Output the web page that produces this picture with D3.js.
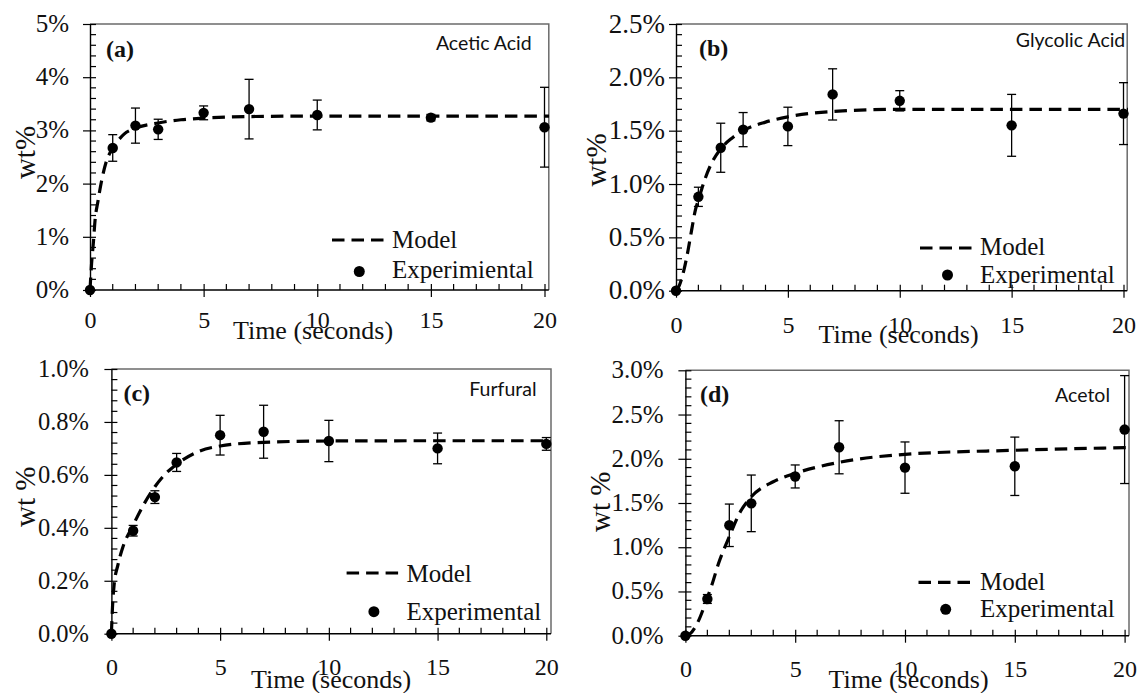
<!DOCTYPE html>
<html>
<head>
<meta charset="utf-8">
<script src="https://cdn.jsdelivr.net/npm/d3@7"></script>
<style>
  html, body { margin: 0; padding: 0; background: #fff; }
  svg { display: block; }
  .serif { font-family: 'Liberation Serif', 'Times New Roman', serif; }
</style>
</head>
<body>
<svg id="fig" width="1138" height="693"></svg>
<script>
// ---- data (wt% values, time in seconds) ----
const timeS = [0, 1, 2, 3, 5, 7, 10, 15, 20];

// (a) Acetic acid
const aceticExp = [0, 2.67, 3.09, 3.02, 3.33, 3.40, 3.29, 3.24, 3.06];
const aceticErr = [0, 0.25, 0.33, 0.19, 0.13, 0.56, 0.28, 0.06, 0.75];
const aceticModelT = [0, 0.07, 0.15, 0.22, 0.35, 0.5, 0.72, 1, 1.5, 2, 3, 4, 5, 7, 10, 15, 20.2];
const aceticModelY = [0, 0.5, 0.9, 1.3, 1.67, 2.03, 2.42, 2.66, 2.93, 3.04, 3.14, 3.2, 3.23, 3.26, 3.27, 3.27, 3.27];

// (b) Glycolic acid
const glycolicExp = [0, 0.88, 1.34, 1.51, 1.54, 1.84, 1.78, 1.55, 1.66];
const glycolicErr = [0, 0.09, 0.23, 0.16, 0.18, 0.24, 0.095, 0.29, 0.29];
const glycolicModelT = [0, 0.15, 0.35, 0.54, 0.7, 0.87, 1, 1.3, 1.6, 2, 2.5, 3, 4, 5, 7, 10, 15, 20.2];
const glycolicModelY = [0, 0.05, 0.19, 0.38, 0.57, 0.76, 0.85, 1.05, 1.2, 1.33, 1.43, 1.5, 1.58, 1.63, 1.68, 1.70, 1.70, 1.70];

// (c) Furfural
const furfuralExp = [0, 0.389, 0.516, 0.647, 0.75, 0.763, 0.728, 0.70, 0.717];
const furfuralErr = [0, 0.02, 0.024, 0.034, 0.075, 0.10, 0.078, 0.058, 0.024];
const furfuralModelT = [0, 0.05, 0.12, 0.3, 0.5, 1, 1.5, 2, 2.5, 3, 4, 5, 7, 10, 15, 20.2];
const furfuralModelY = [0, 0.10, 0.18, 0.26, 0.32, 0.41, 0.49, 0.555, 0.605, 0.64, 0.688, 0.709, 0.723, 0.728, 0.729, 0.729];

// (d) Acetol
const acetolExp = [0, 0.415, 1.248, 1.496, 1.80, 2.13, 1.90, 1.915, 2.33];
const acetolErr = [0, 0.05, 0.24, 0.32, 0.13, 0.30, 0.29, 0.33, 0.61];
const acetolModelT = [0, 0.2, 0.6, 1, 1.2, 1.5, 2, 2.5, 3, 4, 5, 7, 10, 15, 20, 20.2];
const acetolModelY = [0, 0.02, 0.17, 0.43, 0.57, 0.81, 1.12, 1.40, 1.57, 1.74, 1.835, 1.96, 2.05, 2.096, 2.126, 2.127];

// tick labels
const xTicks = [0, 5, 10, 15, 20];
const yTicksA = [0, 1, 2, 3, 4, 5];
const yTicksB = [0, 0.5, 1.0, 1.5, 2.0, 2.5];
const yTicksC = [0, 0.2, 0.4, 0.6, 0.8, 1.0];
const yTicksD = [0, 0.5, 1.0, 1.5, 2.0, 2.5, 3.0];

const compounds = ["Acetic Acid", "Glycolic Acid", "Furfural", "Acetol"];
const panelTags = ["(a)", "(b)", "(c)", "(d)"];
const yTitles = ["wt%", "wt%", "wt %", "wt %"];
const expLabels = ["Experimiental", "Experimental", "Experimental", "Experimental"];

// ---- layout of each panel ----
const panels = [
  { exp: aceticExp, err: aceticErr, mt: aceticModelT, my: aceticModelY, yTicks: yTicksA, yMinor: 0.2, fmt: d => d3.format("d")(d) + "%",
    left: 90, x20: 544.5, right: 548.8, top: 24, bottom: 290,
    yLabR: 69, yFs: 25, xLabDy: 37.5, yTitle: [25.5, 152.5], xTitle: [313, 339],
    tag: [106, 56.5], name: [531.7, 49.5],
    leg: { x1: 332, x2: 385, ly: 240, tx: 392, mY: 248, eY: 278, mx: 359.3, my: 271.5 } },
  { exp: glycolicExp, err: glycolicErr, mt: glycolicModelT, my: glycolicModelY, yTicks: yTicksB, yMinor: 0.1, fmt: d => d3.format(".1f")(d) + "%",
    left: 676, x20: 1123.5, right: 1127.2, top: 24, bottom: 290.7,
    yLabR: 665, yFs: 27, xLabDy: 42.5, yTitle: [597, 160], xTitle: [898.5, 343],
    tag: [699, 56], name: [1125.3, 46.7],
    leg: { x1: 920, x2: 975, ly: 248, tx: 980, mY: 255, eY: 283, mx: 947.5, my: 275 } },
  { exp: furfuralExp, err: furfuralErr, mt: furfuralModelT, my: furfuralModelY, yTicks: yTicksC, yMinor: 0.04, fmt: d => d3.format(".1f")(d) + "%",
    left: 111.4, x20: 546.3, right: 551, top: 369, bottom: 633.7,
    yLabR: 89, yFs: 24.5, xLabDy: 41.3, yTitle: [26.3, 496.7], xTitle: [331, 688],
    tag: [123.4, 401], name: [536.5, 395.7],
    leg: { x1: 346.6, x2: 401, ly: 573, tx: 406.5, mY: 581.7, eY: 620, mx: 373.9, my: 611.7 } },
  { exp: acetolExp, err: acetolErr, mt: acetolModelT, my: acetolModelY, yTicks: yTicksD, yMinor: 0.1, fmt: d => d3.format(".1f")(d) + "%",
    left: 685.4, x20: 1124.6, right: 1129, top: 370.3, bottom: 635.7,
    yLabR: 663.6, yFs: 25, xLabDy: 41, yTitle: [601, 501.7], xTitle: [908.5, 688],
    tag: [700, 401.7], name: [1110, 401.7],
    leg: { x1: 918.5, x2: 973, ly: 582.3, tx: 980, mY: 590, eY: 616.7, mx: 945.7, my: 609.3 } }
];

const SANS = "Lato, 'Open Sans', sans-serif";
const DASH = "12.5,7";

const svg = d3.select("#fig");

panels.forEach((p, i) => {
  const g = svg.append("g");
  const yMax = p.yTicks[p.yTicks.length - 1];
  const x = d3.scaleLinear().domain([0, 20]).range([p.left, p.x20]);
  const y = d3.scaleLinear().domain([0, yMax]).range([p.bottom, p.top]);

  // frame: light border on top and right
  g.append("path")
    .attr("d", `M${p.left},${p.top}H${p.right}V${p.bottom}`)
    .attr("fill", "none").attr("stroke", "#6b6b6b").attr("stroke-width", 1.5);

  // minor ticks (inside)
  const yMinorVals = d3.range(0, yMax + 1e-9, p.yMinor).filter(v => !p.yTicks.some(t => Math.abs(t - v) < 1e-6));
  g.append("g").selectAll("line").data(yMinorVals).join("line")
    .attr("x1", p.left).attr("x2", p.left + 6)
    .attr("y1", d => y(d)).attr("y2", d => y(d))
    .attr("stroke", "#000").attr("stroke-width", 1.2);
  const xMinorVals = d3.range(1, 21).filter(v => v % 5 !== 0);
  g.append("g").selectAll("line").data(xMinorVals).join("line")
    .attr("x1", d => x(d)).attr("x2", d => x(d))
    .attr("y1", p.bottom).attr("y2", p.bottom - 6)
    .attr("stroke", "#000").attr("stroke-width", 1.2);

  // y axis with crossing major ticks
  const yAxis = d3.axisLeft(y).tickValues(p.yTicks).tickFormat(p.fmt).tickSizeInner(7).tickSizeOuter(0).tickPadding(p.left - p.yLabR - 7);
  const ya = g.append("g").attr("transform", `translate(${p.left},0)`).call(yAxis);
  ya.attr("font-family", null).attr("font-size", null);
  ya.select(".domain").attr("stroke", "#000").attr("stroke-width", 1.4);
  ya.selectAll(".tick line").attr("x2", -7).attr("x1", 6).attr("stroke-width", 1.2);
  ya.selectAll(".tick text").attr("class", "serif").style("font-size", p.yFs + "px").attr("fill", "#111").attr("dy", "0.3em");

  // x axis with crossing major ticks
  const xAxis = d3.axisBottom(x).tickValues(xTicks).tickFormat(d3.format("d")).tickSizeInner(7).tickSizeOuter(0);
  const xa = g.append("g").attr("transform", `translate(0,${p.bottom})`).call(xAxis);
  xa.attr("font-family", null).attr("font-size", null);
  xa.select(".domain").attr("stroke", "#000").attr("stroke-width", 1.4).attr("d", `M${p.left},0H${p.right}`);
  xa.selectAll(".tick line").attr("y1", -6).attr("y2", 7).attr("stroke-width", 1.2);
  xa.selectAll(".tick text").attr("class", "serif").style("font-size", "24px").attr("fill", "#111")
    .attr("y", p.xLabDy).attr("dy", 0);

  // model curve
  const model = p.mt.map((t, k) => [t, p.my[k]]);
  g.append("path").datum(model)
    .attr("d", d3.line().x(d => x(d[0])).y(d => y(d[1])).curve(d3.curveMonotoneX))
    .attr("fill", "none").attr("stroke", "#000").attr("stroke-width", 3.2)
    .attr("stroke-dasharray", DASH);

  // error bars
  const pts = timeS.map((t, k) => ({ t, v: p.exp[k], e: p.err[k] }));
  const eb = g.append("g").attr("stroke", "#000").attr("stroke-width", 1.3);
  pts.filter(d => d.e > 0).forEach(d => {
    eb.append("line").attr("x1", x(d.t)).attr("x2", x(d.t)).attr("y1", y(d.v - d.e)).attr("y2", y(d.v + d.e));
    eb.append("line").attr("x1", x(d.t) - 4.5).attr("x2", x(d.t) + 4.5).attr("y1", y(d.v + d.e)).attr("y2", y(d.v + d.e));
    eb.append("line").attr("x1", x(d.t) - 4.5).attr("x2", x(d.t) + 4.5).attr("y1", y(d.v - d.e)).attr("y2", y(d.v - d.e));
  });

  // experimental points
  g.append("g").selectAll("circle").data(pts).join("circle")
    .attr("cx", d => x(d.t)).attr("cy", d => y(d.v)).attr("r", 5.2).attr("fill", "#000");

  // axis titles
  g.append("text").attr("class", "serif").attr("x", p.xTitle[0]).attr("y", p.xTitle[1]).attr("text-anchor", "middle")
    .style("font-size", "26px").attr("fill", "#111").text("Time (seconds)");
  g.append("text").attr("class", "serif").attr("transform", `translate(${p.yTitle[0] + 9},${p.yTitle[1]}) rotate(-90)`)
    .attr("text-anchor", "middle").style("font-size", "29px").attr("fill", "#111").text(yTitles[i]);

  // panel tag and compound name
  g.append("text").attr("class", "serif").attr("x", p.tag[0]).attr("y", p.tag[1]).attr("font-weight", "bold")
    .style("font-size", "24px").attr("fill", "#111").text(panelTags[i]);
  g.append("text").attr("x", p.name[0]).attr("y", p.name[1]).attr("text-anchor", "end")
    .style("font-family", SANS).style("font-size", "19.5px").attr("fill", "#111").text(compounds[i]);

  // legend
  const L = p.leg;
  g.append("line").attr("x1", L.x1).attr("x2", L.x2).attr("y1", L.ly).attr("y2", L.ly)
    .attr("stroke", "#000").attr("stroke-width", 3.2).attr("stroke-dasharray", DASH);
  g.append("text").attr("class", "serif").attr("x", L.tx).attr("y", L.mY).style("font-size", "25px").attr("fill", "#111").text("Model");
  g.append("circle").attr("cx", L.mx).attr("cy", L.my).attr("r", 5.5).attr("fill", "#000");
  g.append("text").attr("class", "serif").attr("x", L.tx).attr("y", L.eY).style("font-size", "25px").attr("fill", "#111").text(expLabels[i]);
});
</script>
</body>
</html>
